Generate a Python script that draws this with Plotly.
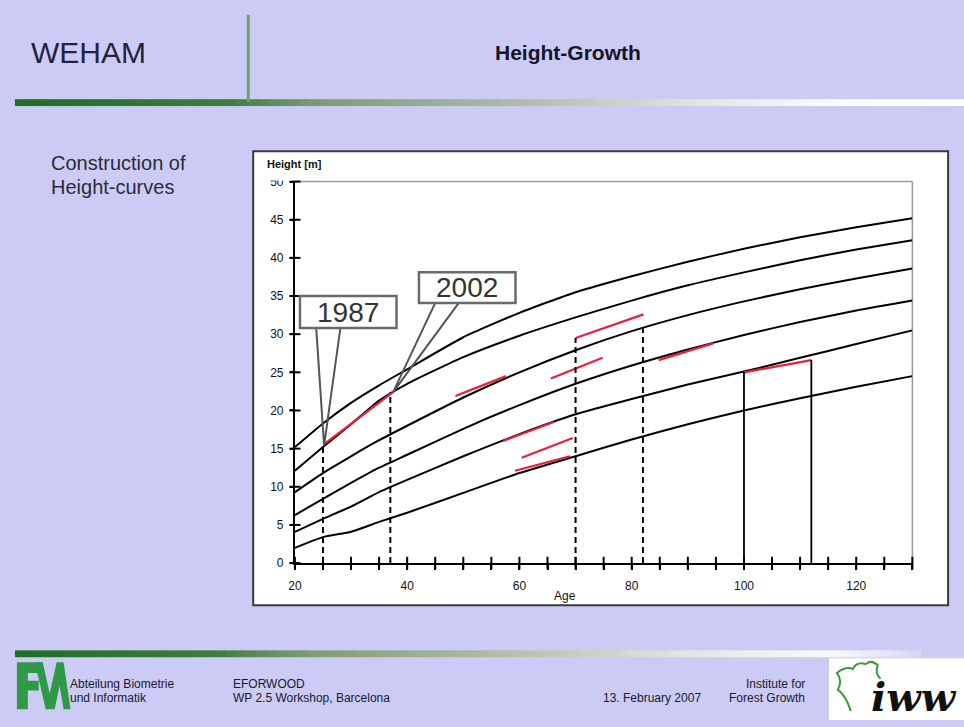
import plotly.graph_objects as go

# ---------------------------------------------------------------- data
AGES = [20, 25, 30, 35, 40, 50, 60, 70, 80, 90, 100, 110, 120, 130]
CURVE_1 = [2.0, 3.4, 4.1, 5.4, 6.6, 9.2, 11.8, 14.0, 16.2, 18.2, 20.0, 21.6, 23.1, 24.5]
CURVE_2 = [4.1, 5.8, 7.4, 9.3, 10.9, 14.0, 16.9, 19.5, 21.5, 23.4, 25.1, 26.9, 28.7, 30.5]
CURVE_3 = [6.3, 8.4, 10.5, 12.5, 14.2, 17.6, 20.7, 23.5, 25.9, 28.0, 29.9, 31.6, 33.1, 34.4]
CURVE_4 = [9.3, 11.8, 14.0, 16.1, 18.0, 21.7, 25.0, 27.9, 30.4, 32.5, 34.3, 35.9, 37.3, 38.6]
CURVE_5 = [12.1, 15.2, 18.2, 21.3, 23.5, 27.0, 29.8, 32.2, 34.4, 36.4, 38.1, 39.7, 41.1, 42.3]
CURVE_6 = [15.2, 18.3, 21.0, 23.3, 25.4, 29.6, 32.8, 35.5, 37.6, 39.5, 41.2, 42.7, 44.0, 45.2]
CURVES = [CURVE_1, CURVE_2, CURVE_3, CURVE_4, CURVE_5, CURVE_6]

# measured growth between two inventories (red segments)
RED_AGE_START = [25.2, 48.6, 65.6, 70.0, 84.8, 100.0, 57.1, 60.4, 59.2]
RED_AGE_END = [37.5, 57.6, 74.8, 82.1, 94.5, 112.0, 66.1, 69.5, 69.0]
RED_H_START = [15.6, 21.9, 24.2, 29.5, 26.6, 25.0, 16.0, 13.8, 12.1]
RED_H_END = [22.4, 24.5, 26.9, 32.6, 28.8, 26.6, 18.5, 16.4, 14.0]

DASHED_AGES = [25, 37, 70, 82]
DASHED_TOPS = [15.3, 22.4, 29.5, 31.0]
SOLID_AGES = [100, 112]
SOLID_TOPS = [25.0, 26.6]

CALLOUT_TEXT = ["1987", "2002"]
CALLOUT_AGE = [25.2, 37.5]
CALLOUT_H = [15.4, 22.4]

X_TICKS = [20, 40, 60, 80, 100, 120]
X_MINOR = list(range(20, 131, 5))
Y_TICKS = list(range(0, 51, 5))

# ---------------------------------------------------------------- layout helpers
W, H = 964, 727
LAV = "#CBCBF6"


def fx(x):
    return x / W


def fy(y):
    return 1 - y / H


def ppath(points, close=False):
    s = "M " + " L ".join(f"{fx(x):.5f},{fy(y):.5f}" for x, y in points)
    return s + (" Z" if close else "")


fig = go.Figure()

for c in CURVES:
    fig.add_trace(go.Scatter(x=AGES, y=c, mode="lines",
                             line=dict(color="black", width=2, shape="spline", smoothing=0.5),
                             hoverinfo="skip", showlegend=False))

for a0, a1, h0, h1 in zip(RED_AGE_START, RED_AGE_END, RED_H_START, RED_H_END):
    fig.add_trace(go.Scatter(x=[a0, a1], y=[h0, h1], mode="lines",
                             line=dict(color="#E8203C", width=2.2),
                             hoverinfo="skip", showlegend=False))

for a, top in zip(DASHED_AGES, DASHED_TOPS):
    fig.add_trace(go.Scatter(x=[a, a], y=[0, top], mode="lines",
                             line=dict(color="black", width=2, dash="6px,4px"),
                             hoverinfo="skip", showlegend=False))

for a, top in zip(SOLID_AGES, SOLID_TOPS):
    fig.add_trace(go.Scatter(x=[a, a], y=[0, top], mode="lines",
                             line=dict(color="black", width=1.8),
                             hoverinfo="skip", showlegend=False))

# inner half of the crossing tick marks (outer half comes from the axes)
fig.add_trace(go.Scatter(x=X_MINOR, y=[0] * len(X_MINOR), mode="markers",
                         marker=dict(symbol="line-ns-open", size=9, color="black",
                                     line=dict(color="black", width=2)),
                         cliponaxis=False, hoverinfo="skip", showlegend=False))
fig.add_trace(go.Scatter(x=[20] * len(Y_TICKS), y=Y_TICKS, mode="markers",
                         marker=dict(symbol="line-ew-open", size=8, color="black",
                                     line=dict(color="black", width=2)),
                         cliponaxis=False, hoverinfo="skip", showlegend=False))

shapes = []

shapes.append(dict(type="rect", xref="paper", yref="paper", x0=fx(248), x1=fx(948), y0=fy(610), y1=fy(147),
                   fillcolor="white", line=dict(color="#3a3a3a", width=2), layer="below"))


def gradient_bar(x0, x1, y0, y1, stops, n=90):
    out = []
    step = (x1 - x0) / n
    for i in range(n):
        t = (i + 0.5) / n
        for k in range(len(stops) - 1):
            if stops[k][0] <= t <= stops[k + 1][0]:
                t0, c0 = stops[k]
                t1, c1 = stops[k + 1]
                u = (t - t0) / (t1 - t0) if t1 > t0 else 0
                col = tuple(int(round(c0[j] + (c1[j] - c0[j]) * u)) for j in range(3))
                break
        out.append(dict(type="rect", xref="paper", yref="paper",
                        x0=fx(x0 + i * step), x1=fx(x0 + (i + 1) * step + 0.6),
                        y0=fy(y1), y1=fy(y0), fillcolor="rgb(%d,%d,%d)" % col,
                        line=dict(width=0), layer="below"))
    return out


BAR_STOPS = [(0.0, (30, 110, 35)), (0.22, (60, 125, 60)), (0.32, (125, 155, 115)),
             (0.55, (180, 192, 172)), (0.72, (225, 230, 222)), (0.85, (250, 250, 250)),
             (1.0, (255, 255, 255))]
shapes += gradient_bar(8, 964, 94, 101, BAR_STOPS)
FOOT_STOPS = [(0.0, (30, 110, 35)), (0.22, (60, 125, 60)), (0.32, (125, 155, 115)),
              (0.55, (180, 192, 172)), (0.75, (228, 232, 225)), (0.9, (250, 250, 250)),
              (1.0, (215, 215, 245))]
shapes += gradient_bar(8, 920, 656, 663, FOOT_STOPS)

shapes.append(dict(type="line", xref="paper", yref="paper", x0=fx(243), x1=fx(243), y0=fy(97), y1=fy(8),
                   line=dict(color="#68A070", width=3), layer="below"))

shapes.append(dict(type="line", xref="x domain", yref="y domain", x0=0, x1=1, y0=1, y1=1,
                   line=dict(color="#9a9a9a", width=1.5), layer="below"))
shapes.append(dict(type="line", xref="x domain", yref="y domain", x0=1, x1=1, y0=0, y1=1,
                   line=dict(color="#9a9a9a", width=1.5), layer="below"))

# callouts
CALLOUT_BOX = [(20.9, 38.1, 30.8, 35.0), (42.1, 59.3, 34.1, 38.1)]
CALLOUT_BASE = [(23.8, 28.1), (45.0, 49.2)]
for (bx0, bx1, by0, by1), (w0, w1), ta, th in zip(CALLOUT_BOX, CALLOUT_BASE, CALLOUT_AGE, CALLOUT_H):
    shapes.append(dict(type="path", xref="x", yref="y",
                       path=f"M {w0},{by0} L {ta},{th} L {w1},{by0}",
                       line=dict(color="#555555", width=2)))
    shapes.append(dict(type="rect", xref="x", yref="y", x0=bx0, x1=bx1, y0=by0, y1=by1,
                       fillcolor="white", line=dict(color="#6a6a6a", width=2.5)))

# FVA logo
GREEN = "#2F9A45"
shapes.append(dict(type="path", xref="paper", yref="paper",
                   path=ppath([(10, 668), (36, 668), (36, 679), (21, 679), (21, 687), (32, 687),
                               (32, 697), (21, 697), (21, 716), (10, 716)], True),
                   fillcolor=GREEN, line=dict(width=0)))
shapes.append(dict(type="path", xref="paper", yref="paper",
                   path=ppath([(28, 668), (36, 668), (43, 700), (50, 668), (57, 668), (64, 716),
                               (57, 716), (53, 692), (48, 716), (39, 716)], True),
                   fillcolor=GREEN, line=dict(width=0)))

# iww logo
shapes.append(dict(type="rect", xref="paper", yref="paper", x0=fx(828), x1=fx(964), y0=fy(727), y1=fy(664),
                   fillcolor="white", line=dict(width=0), layer="below"))
tree = [(850, 718), (842, 710), (845, 702), (837, 696), (842, 687), (836, 679), (845, 672),
        (852, 675), (856, 667), (865, 670), (870, 665), (877, 671), (874, 680), (880, 685), (874, 693)]
shapes.append(dict(type="path", xref="paper", yref="paper",
                   path="M " + " Q ".join(
                       f"{fx(tree[i][0]):.5f},{fy(tree[i][1]):.5f} {fx(tree[i + 1][0]):.5f},{fy(tree[i + 1][1]):.5f}"
                       for i in range(0, len(tree) - 1, 2)),
                   line=dict(color="#3C9A3C", width=2)))

# hide upper half of the topmost tick label
shapes.append(dict(type="rect", xref="paper", yref="paper", x0=fx(262), x1=fx(287), y0=fy(177), y1=fy(168),
                   fillcolor="white", line=dict(width=0), layer="above"))

ann = []
TXT = "#2b2b33"
FONT = "Liberation Sans, Arial, sans-serif"


def label(x, y, text, size, xanchor="left", color=TXT, bold=False, family=FONT, italic=False):
    t = f"<b>{text}</b>" if bold else text
    if italic:
        t = f"<i>{t}</i>"
    ann.append(dict(x=fx(x), y=fy(y), xref="paper", yref="paper", text=t, showarrow=False,
                    xanchor=xanchor, yanchor="middle", font=dict(size=size, color=color, family=family)))


label(22, 46, "WEHAM", 30, color="#23233a")
label(565, 46, "Height-Growth", 21, xanchor="center", bold=True, color="#15152a")
label(42, 159, "Construction of", 20)
label(42, 184, "Height-curves", 20)
label(260, 160, "Height [m]", 11, bold=True, color="#111")
label(562, 601, "Age", 12, xanchor="center", color="#111")

for (bx0, bx1, by0, by1), t in zip(CALLOUT_BOX, CALLOUT_TEXT):
    ann.append(dict(x=(bx0 + bx1) / 2, y=(by0 + by1) / 2, xref="x", yref="y", text=t, showarrow=False,
                    font=dict(size=28, color="#333", family=FONT), xanchor="center", yanchor="middle"))

FOOT = "#1a1a2a"
label(61, 690, "Abteilung Biometrie", 12, color=FOOT)
label(61, 705, "und Informatik", 12, color=FOOT)
label(226, 690, "EFORWOOD", 12, color=FOOT)
label(226, 705, "WP 2.5 Workshop, Barcelona", 12, color=FOOT)
label(650, 705, "13. February 2007", 12, xanchor="center", color=FOOT)
label(806, 690, "Institute for", 12, xanchor="right", color=FOOT)
label(806, 705, "Forest Growth", 12, xanchor="right", color=FOOT)
label(868, 703, "iww", 40, color="#111", bold=True, italic=True, family="DejaVu Serif, serif")

fig.update_layout(
    width=W, height=H, autosize=False,
    margin=dict(l=0, r=0, t=0, b=0),
    paper_bgcolor=LAV, plot_bgcolor="white",
    showlegend=False,
    shapes=shapes, annotations=ann,
    xaxis=dict(domain=[fx(290), fx(912)], range=[20, 130],
               tickvals=X_MINOR, ticktext=[str(v) if v in X_TICKS else "" for v in X_MINOR],
               ticks="outside", ticklen=5, tickwidth=2, tickcolor="black",
               showgrid=False, zeroline=False, showline=True, linecolor="black", linewidth=2,
               tickfont=dict(size=12, color="#111", family=FONT), ticklabelstandoff=6),
    yaxis=dict(domain=[fy(567), fy(178)], range=[0, 50], tickvals=Y_TICKS,
               ticks="outside", ticklen=3, tickwidth=2, tickcolor="black",
               showgrid=False, zeroline=False, showline=True, linecolor="black", linewidth=2,
               tickfont=dict(size=12, color="#111", family=FONT), ticklabelstandoff=4),
)

fig.write_html("out.html")
